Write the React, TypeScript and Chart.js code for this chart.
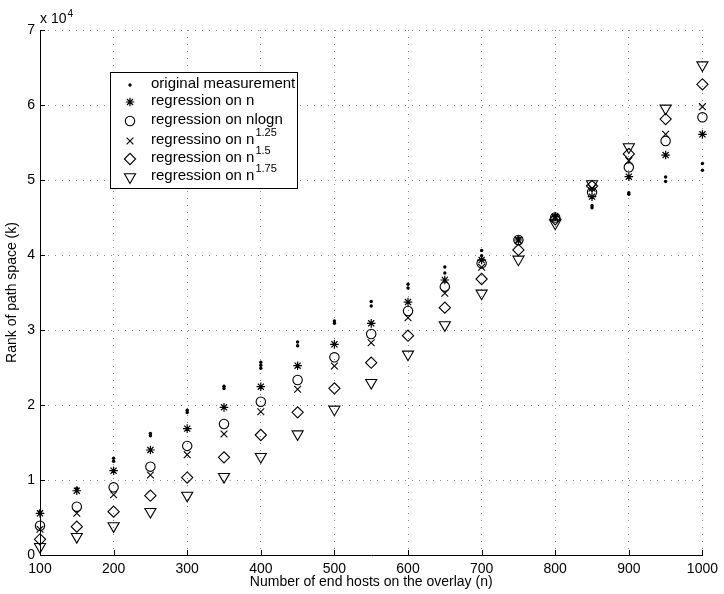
import React, { useEffect, useRef } from 'react';
import { Chart, registerables } from 'chart.js';
import { drawPoint } from 'chart.js/helpers';

Chart.register(...registerables);

// ---- data ----
const hosts = [100, 150, 200, 250, 300, 350, 400, 450, 500, 550, 600, 650, 700, 750, 800, 850, 900, 950, 1000];

const measuredX = [
  100, 100, 150, 150, 200, 200, 250, 250, 300, 300, 350, 350, 400, 400, 400,
  450, 450, 500, 500, 550, 550, 600, 600, 650, 650, 700, 700, 750, 750, 800, 800,
  850, 850, 900, 900, 950, 950, 1000, 1000,
];
const measuredY = [
  5800, 5500, 8900, 8700, 12900, 12500, 16200, 15900, 19300, 19000, 22500, 22200, 25700, 25300, 24900,
  28400, 27900, 31200, 30900, 33800, 33200, 36100, 35600, 38400, 37600, 40600, 39900, 42300, 42000, 45300, 45100,
  46600, 46300, 48300, 48100, 50400, 49800, 52200, 51300,
];

const regN = [5560, 8570, 11240, 14000, 16850, 19690, 22440, 25240, 28090, 30890, 33730, 36670, 39330, 42000, 45100, 47780, 50440, 53330, 56090];
const regNlogN = [3900, 6440, 9020, 11780, 14550, 17470, 20440, 23330, 26360, 29470, 32530, 35780, 38890, 42000, 45000, 48360, 51690, 55200, 58360];
const regN125 = [3430, 5560, 8040, 10670, 13380, 16130, 19110, 22090, 25200, 28310, 31640, 34890, 38360, 41900, 44900, 48890, 52580, 56090, 59780];
const regN15 = [2090, 3780, 5780, 7910, 10330, 13020, 16000, 19020, 22220, 25640, 29240, 32980, 36800, 40670, 44760, 49200, 53470, 58130, 62760];
const regN175 = [1100, 2440, 3870, 5780, 7950, 10440, 13110, 16130, 19420, 22980, 26760, 30670, 34890, 39420, 44220, 49470, 54400, 59560, 65330];

const seriesLabels = [
  'original measurement',
  'regression on n',
  'regression on nlogn',
  'regressino on n',
  'regression on n',
  'regression on n',
];
const seriesSup = ['', '', '', '1.25', '1.5', '1.75'];

const xTickValues = [100, 200, 300, 400, 500, 600, 700, 800, 900, 1000];
const xTickLabels = ['100', '200', '300', '400', '500', '600', '700', '800', '900', '1000'];
const yTickValues = [0, 10000, 20000, 30000, 40000, 50000, 60000, 70000];
const yTickLabels = ['0', '1', '2', '3', '4', '5', '6', '7'];
const yExponentBase = 'x 10';
const yExponent = '4';
const xTitle = 'Number of end hosts on the overlay (n)';
const yTitle = 'Rank of path space (k)';

const FONT = '"Liberation Sans", Arial, Helvetica, sans-serif';

export default function App() {
  const ref = useRef<HTMLCanvasElement | null>(null);

  useEffect(() => {
    if (!ref.current) return;

    const pts = (ys: number[]) => hosts.map((x, i) => ({ x, y: ys[i] }));
    const clear = 'rgba(0,0,0,0)';

    const styles: any[] = [
      { pointStyle: 'circle', pointRadius: 1.7, backgroundColor: '#000', borderColor: '#000', borderWidth: 0, rotation: 0 },
      { pointStyle: 'star', pointRadius: 4.3, backgroundColor: clear, borderColor: '#000', borderWidth: 1.2, rotation: 0 },
      { pointStyle: 'circle', pointRadius: 4.7, backgroundColor: clear, borderColor: '#000', borderWidth: 1.1, rotation: 0 },
      { pointStyle: 'crossRot', pointRadius: 4.8, backgroundColor: clear, borderColor: '#000', borderWidth: 1.1, rotation: 0 },
      { pointStyle: 'rectRot', pointRadius: 5.6, backgroundColor: clear, borderColor: '#000', borderWidth: 1.1, rotation: 0 },
      { pointStyle: 'triangle', pointRadius: 6.4, backgroundColor: clear, borderColor: '#000', borderWidth: 1.1, rotation: 180 },
    ];

    const dataSets = [
      measuredX.map((x, i) => ({ x, y: measuredY[i] })),
      pts(regN),
      pts(regNlogN),
      pts(regN125),
      pts(regN15),
      pts(regN175),
    ];

    const extras = {
      id: 'extras',
      afterDraw(chart: any) {
        const ctx = chart.ctx as CanvasRenderingContext2D;
        const xs = chart.scales.x;
        const ys = chart.scales.y;
        const area = chart.chartArea;
        ctx.save();
        // inward ticks
        ctx.strokeStyle = '#000';
        ctx.lineWidth = 1;
        ctx.beginPath();
        xTickValues.forEach((v) => {
          const px = Math.round(xs.getPixelForValue(v)) + 0.5;
          ctx.moveTo(px, area.bottom);
          ctx.lineTo(px, area.bottom - 5);
        });
        yTickValues.forEach((v) => {
          const py = Math.round(ys.getPixelForValue(v)) + 0.5;
          ctx.moveTo(area.left, py);
          ctx.lineTo(area.left + 5, py);
        });
        ctx.stroke();

        // exponent label
        ctx.fillStyle = '#000';
        ctx.textBaseline = 'alphabetic';
        ctx.textAlign = 'left';
        ctx.font = `14px ${FONT}`;
        const ex = area.left;
        const ey = area.top - 7;
        ctx.fillText(yExponentBase, ex, ey);
        const w = ctx.measureText(yExponentBase).width;
        ctx.font = `10px ${FONT}`;
        ctx.fillText(yExponent, ex + w + 1, ey - 6);

        // legend
        const lx = 110.5, ly = 72.5, lw = 187, lh = 116;
        ctx.fillStyle = '#fff';
        ctx.fillRect(lx, ly, lw, lh);
        ctx.strokeStyle = '#000';
        ctx.lineWidth = 1;
        ctx.strokeRect(lx, ly, lw, lh);
        const rowY = [85, 102, 121, 141, 159, 177];
        chart.data.datasets.forEach((ds: any, i: number) => {
          const y = rowY[i];
          ctx.save();
          ctx.strokeStyle = '#000';
          ctx.fillStyle = i === 0 ? '#000' : clear;
          ctx.lineWidth = ds.borderWidth || 1;
          if (i === 0) {
            ctx.beginPath();
            ctx.arc(130, y, 1.7, 0, Math.PI * 2);
            ctx.fill();
          } else {
            drawPoint(ctx, { pointStyle: ds.pointStyle, radius: ds.pointRadius, borderWidth: ds.borderWidth, rotation: ds.rotation } as any, 130, y);
          }
          ctx.restore();
          ctx.fillStyle = '#000';
          ctx.textAlign = 'left';
          ctx.textBaseline = 'middle';
          ctx.font = `15px ${FONT}`;
          const label = seriesLabels[i];
          ctx.fillText(label, 151, y - 1);
          if (seriesSup[i]) {
            const tw = ctx.measureText(label).width;
            ctx.font = `11px ${FONT}`;
            ctx.fillText(seriesSup[i], 151 + tw + 1, y - 8);
          }
        });
        ctx.restore();
      },
    };

    const chart = new Chart(ref.current, {
      type: 'scatter',
      data: {
        datasets: dataSets.map((d, i) => ({
          label: seriesLabels[i] + seriesSup[i],
          data: d,
          clip: false as any,
          ...styles[i],
        })),
      },
      options: {
        animation: false,
        responsive: false,
        devicePixelRatio: 1,
        layout: { padding: { left: 0, top: 30, right: 18, bottom: 0 } },
        plugins: { legend: { display: false }, tooltip: { enabled: false } },
        scales: {
          x: {
            type: 'linear',
            min: 100,
            max: 1000,
            afterFit: (s: any) => { s.height = 39; },
            afterBuildTicks: (s: any) => { s.ticks = xTickValues.map((v) => ({ value: v })); },
            ticks: {
              color: '#000',
              font: { family: FONT, size: 14 },
              padding: 6,
              maxRotation: 0,
              autoSkip: false,
              callback: (v: any) => {
                const idx = xTickValues.indexOf(Number(v));
                return idx >= 0 ? xTickLabels[idx] : '';
              },
            },
            grid: { color: '#8a8a8a', lineWidth: 1, drawTicks: false },
            border: { display: true, color: '#000', width: 1, dash: [1, 6] },
            title: {
              display: true,
              text: xTitle,
              color: '#000',
              font: { family: FONT, size: 14 },
              padding: { top: 3, bottom: 3 },
            },
          },
          y: {
            type: 'linear',
            min: 0,
            max: 70000,
            afterFit: (s: any) => { s.width = 40; },
            afterBuildTicks: (s: any) => { s.ticks = yTickValues.map((v) => ({ value: v })); },
            ticks: {
              color: '#000',
              font: { family: FONT, size: 14 },
              padding: 5,
              autoSkip: false,
              callback: (v: any) => {
                const idx = yTickValues.indexOf(Number(v));
                return idx >= 0 ? yTickLabels[idx] : '';
              },
            },
            grid: { color: '#8a8a8a', lineWidth: 1, drawTicks: false },
            border: { display: true, color: '#000', width: 1, dash: [1, 6] },
            title: {
              display: true,
              text: yTitle,
              color: '#000',
              font: { family: FONT, size: 14 },
              padding: { top: 3.6, bottom: 3.6 },
            },
          },
        },
      },
      plugins: [extras],
    });
    return () => chart.destroy();
  }, []);

  return (
    <div style={{ position: 'fixed', left: 0, top: 0, width: 724, height: 594, background: '#fff' }}>
      <canvas ref={ref} width={724} height={594} style={{ width: 724, height: 594 }} />
    </div>
  );
}
